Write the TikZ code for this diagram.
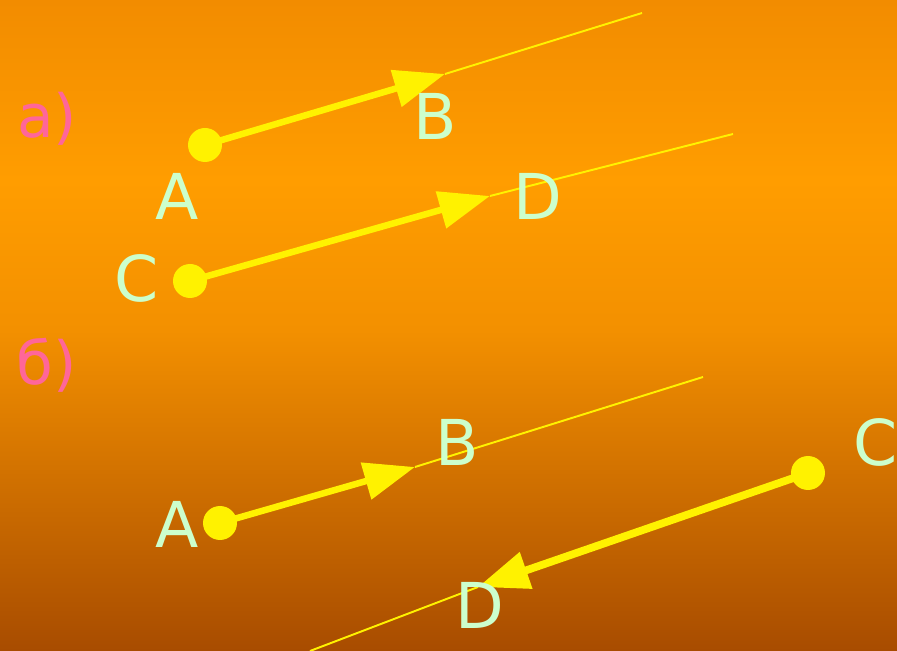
\documentclass[tikz,border=0pt]{standalone}
\usepackage{fontspec}
\setmainfont{DejaVu Sans}
\usepackage{tikz}
\usetikzlibrary{arrows.meta}
\definecolor{bgtop}{HTML}{F28C00}
\definecolor{bglight}{HTML}{FF9D00}
\definecolor{bgmid}{HTML}{F39000}
\definecolor{bgbot}{HTML}{A84C00}
\definecolor{lettergreen}{HTML}{CCFFCC}
\definecolor{partpink}{HTML}{FF6699}
\begin{document}
\begin{tikzpicture}[x={(0.02cm,0)},y={(0,-0.02cm)},
  dot/.style={circle,fill=yellow,inner sep=0pt,minimum size=0.68cm},
  vec/.style={yellow,line width=3.7pt,-{Triangle[length=29pt,width=21pt]}},
  ray/.style={yellow,line width=1.1pt},
  letter/.style={lettergreen,inner sep=0pt,font=\fontsize{36}{40}\selectfont},
  part/.style={partpink,inner sep=0pt,font=\fontsize{34}{38}\selectfont}]
\useasboundingbox (0,0) rectangle (897,651);
\shade[top color=bgtop,bottom color=bglight] (0,0) rectangle (897,181);
\shade[top color=bglight,bottom color=bgmid] (0,180) rectangle (897,331);
\shade[top color=bgmid,bottom color=bgbot] (0,330) rectangle (897,651);
% a)
\begin{scope}
  \node[part] (parta) at (47,119) {а)};
  \node[dot] (A1) at (205,145) {};
  \coordinate (B1) at (445,74);
  \coordinate (B1end) at (642,13);
  \draw[vec] (A1.center) -- (B1);
  \draw[ray] (B1) -- (B1end);
  \node[dot] (C1) at (190,281) {};
  \coordinate (D1) at (490,196);
  \coordinate (D1end) at (733,134);
  \draw[vec] (C1.center) -- (D1);
  \draw[ray] (D1) -- (D1end);
  \node[letter] (A1lbl) at (177,196) {A};
  \node[letter] (B1lbl) at (435,116) {B};
  \node[letter] (C1lbl) at (137,278) {C};
  \node[letter] (D1lbl) at (538,196) {D};
\end{scope}
% b)
\begin{scope}
  \node[part] (partb) at (47,365) {б)};
  \node[dot] (A2) at (220,523) {};
  \coordinate (B2) at (415,467);
  \coordinate (B2end) at (703,377);
  \draw[vec] (A2.center) -- (B2);
  \draw[ray] (B2) -- (B2end);
  \node[dot] (C2) at (808,473) {};
  \coordinate (D2) at (478,587);
  \coordinate (D2end) at (310,651);
  \draw[vec,line width=4.4pt] (C2.center) -- (D2);
  \draw[ray] (D2) -- (D2end);
  \node[letter] (A2lbl) at (177,524) {A};
  \node[letter] (B2lbl) at (457,442) {B};
  \node[letter] (C2lbl) at (876,442) {C};
  \node[letter] (D2lbl) at (480,605) {D};
\end{scope}
\end{tikzpicture}
\end{document}
